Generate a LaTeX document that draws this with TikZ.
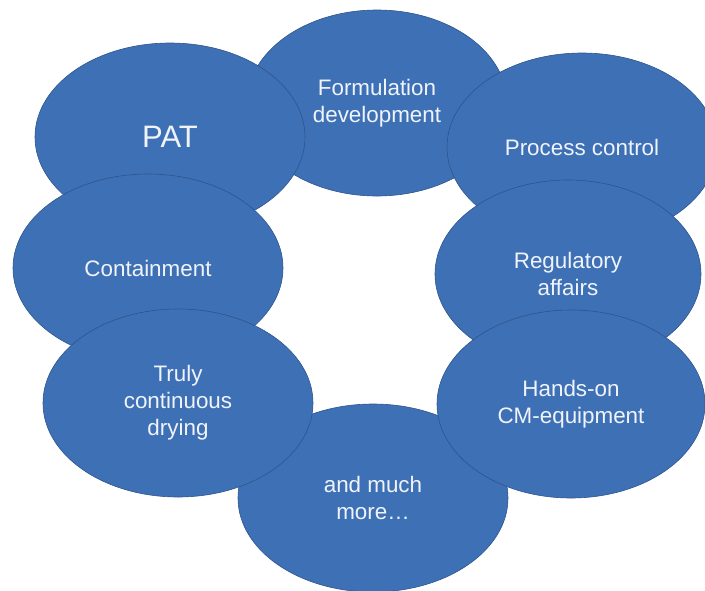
\documentclass[tikz,border=0pt]{standalone}
\usepackage{fontspec}
\setmainfont{Liberation Sans}
\usetikzlibrary{shapes.geometric}
\definecolor{ovfill}{RGB}{62,112,182}
\definecolor{ovline}{RGB}{46,84,140}
\definecolor{ovtext}{RGB}{240,244,250}
\begin{document}
\begin{tikzpicture}[x=1pt,y=-1pt,
  oval/.style={ellipse,fill=ovfill,draw=ovline,line width=0.6pt,
    minimum width=270pt,minimum height=188pt,inner sep=0pt,
    text=ovtext,font=\fontsize{22.4}{27}\selectfont,align=center}]
\useasboundingbox (0,0) rectangle (705,590);
\node[oval,minimum width=260pt,minimum height=186pt] (form) at (377,103) {Formulation\\development};
\node[oval] (more) at (373,498) {and much\\more\ldots};
\node[oval,font=\fontsize{31}{34}\selectfont] (pat) at (170,137) {PAT};
\node[oval] (proc) at (582,147) {Process control};
\node[oval] (cont) at (148,268) {Containment};
\node[oval,minimum width=266pt] (reg) at (568,274) {Regulatory\\affairs};
\node[oval] (truly) at (178,403) {Truly\\continuous\\drying};
\node[oval,minimum width=268pt] (hands) at (571,404) {Hands-on\\CM-equipment};
\end{tikzpicture}
\end{document}
